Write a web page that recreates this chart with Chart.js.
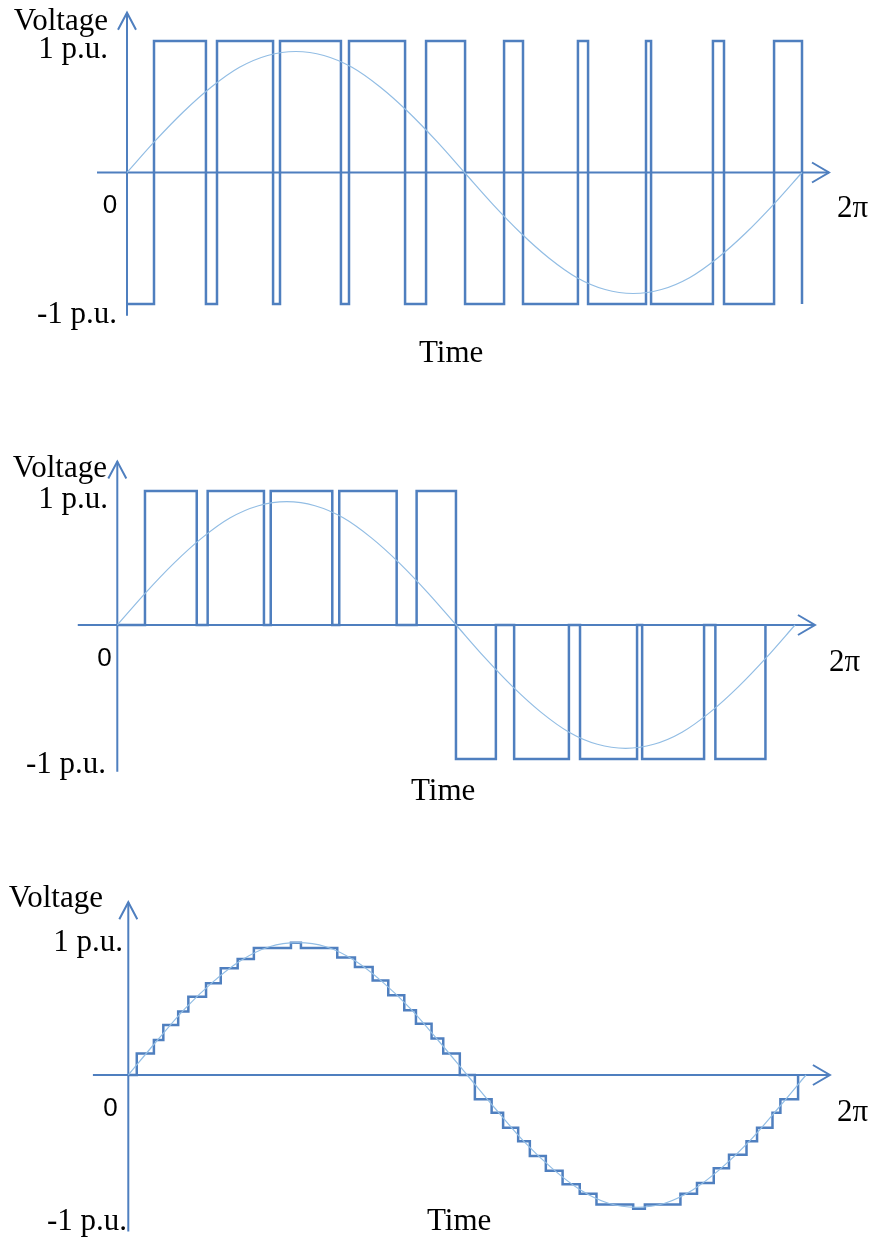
<!DOCTYPE html>
<html>
<head>
<meta charset="utf-8">
<script src="https://cdn.jsdelivr.net/npm/chart.js@4.4.1/dist/chart.umd.min.js"></script>
<style>
  body { margin: 0; background: #fff; }
  #wrap { position: relative; width: 874px; height: 1238px; overflow: hidden; }
  canvas { position: absolute; left: 0; }
</style>
</head>
<body>
<div id="wrap">
  <canvas id="pwmBipolar"></canvas>
  <canvas id="pwmUnipolar"></canvas>
  <canvas id="multilevel"></canvas>
</div>
<script>
// texts
const axisTitles = ['Voltage', 'Time']
const tickLabels = ['1 p.u.', '0', '-1 p.u.']
const periodLabel = '2π'

// reference sine (angle in degrees, value in p.u.)
const sineAngles = [0, 15, 30, 45, 60, 75, 90, 105, 120, 135, 150, 165, 180, 195, 210, 225, 240, 255, 270, 285, 300, 315, 330, 345, 360]
const sineTop = [0, 0.24, 0.46, 0.65, 0.80, 0.89, 0.92, 0.89, 0.80, 0.65, 0.46, 0.24, 0, -0.24, -0.46, -0.65, -0.80, -0.89, -0.92, -0.89, -0.80, -0.65, -0.46, -0.24, 0]
const sineBottom = [0, 0.25, 0.49, 0.69, 0.85, 0.95, 0.98, 0.95, 0.85, 0.69, 0.49, 0.25, 0, -0.25, -0.49, -0.69, -0.85, -0.95, -0.98, -0.95, -0.85, -0.69, -0.49, -0.25, 0]

// two level pwm: each level holds from its angle until the next one
const bipolarAngles = [0, 14.4, 42.1, 48.0, 77.9, 81.6, 114.1, 118.4, 148.3, 159.5, 180.3, 201.1, 211.2, 240.5, 245.9, 276.8, 279.5, 312.5, 318.4, 345.1, 360]
const bipolarLevels = [-1, 1, -1, 1, -1, 1, -1, 1, -1, 1, -1, 1, -1, 1, -1, 1, -1, 1, -1, 1, -1]

// three level pwm
const unipolarAngles = [0, 14.7, 42.2, 48.0, 77.9, 81.5, 114.2, 117.9, 148.4, 159.0, 179.9, 201.1, 210.8, 239.9, 245.8, 276.1, 278.8, 311.7, 317.7, 344.3]
const unipolarLevels = [0, 1, 0, 1, 0, 1, 0, 1, 0, 1, -1, 0, -1, 0, -1, 0, -1, 0, -1, 0]

// multilevel staircase
const stepAngles = [0, 4.5, 13.6, 18.6, 26.5, 31.9, 41.3, 49.1, 58.1, 66.7, 86.4, 91.7, 111.0, 120.4, 129.8, 138.1, 146.6, 152.8, 161.1, 167.3, 176.1,
  184.1, 193.0, 199.1, 207.1, 213.3, 221.8, 230.7, 239.8, 248.7, 268.2, 274.4, 293.3, 302.1, 311.0, 319.1, 328.4, 334.0, 342.2, 346.4, 355.8]
const stepLevels = [0, 0.16, 0.26, 0.37, 0.47, 0.58, 0.68, 0.79, 0.86, 0.94, 0.98, 0.94, 0.87, 0.80, 0.70, 0.59, 0.48, 0.38, 0.27, 0.16, 0,
  -0.18, -0.28, -0.39, -0.49, -0.60, -0.71, -0.81, -0.88, -0.96, -0.99, -0.96, -0.88, -0.80, -0.69, -0.59, -0.49, -0.39, -0.28, -0.18, 0]

const waveColor = '#4f7fbf'
const sineColor = '#92bde4'
const serif = '31px "Liberation Serif", "Times New Roman", serif'
const sans = '26px "Liberation Sans", Arial, sans-serif'

const X_MIN = -25, X_MAX = 385, Y_MIN = -1.2, Y_MAX = 1.3

const toPoints = (xs, ys) => xs.map((v, i) => ({ x: v, y: ys[i] }))

// page geometry of each panel (pixels), axis extents in data units
const panels = [
  {
    id: 'pwmBipolar', top: 0, height: 430, x0: 127, x360: 802, zero: 172.5, unit: 131.5,
    xStart: -16, xTip: 374.4, yTip: 1.215, yBottom: -1.09,
    sine: sineTop, angles: bipolarAngles, levels: bipolarLevels,
    labels: [
      { text: axisTitles[0], x: 108, y: 30, align: 'right' },
      { text: tickLabels[0], x: 108, y: 58, align: 'right' },
      { text: tickLabels[1], x: 110, y: 213, align: 'center', font: sans },
      { text: tickLabels[2], x: 117, y: 323, align: 'right' },
      { text: periodLabel, x: 837, y: 217, align: 'left' },
      { text: axisTitles[1], x: 419, y: 362, align: 'left' }
    ]
  },
  {
    id: 'pwmUnipolar', top: 430, height: 430, x0: 117.3, x360: 795, zero: 625, unit: 134,
    xStart: -21, xTip: 370.6, yTip: 1.22, yBottom: -1.095,
    sine: sineTop, angles: unipolarAngles, levels: unipolarLevels,
    labels: [
      { text: axisTitles[0], x: 107, y: 477, align: 'right' },
      { text: tickLabels[0], x: 108, y: 508, align: 'right' },
      { text: tickLabels[1], x: 104.5, y: 666, align: 'center', font: sans },
      { text: tickLabels[2], x: 106, y: 773, align: 'right' },
      { text: periodLabel, x: 829, y: 671, align: 'left' },
      { text: axisTitles[1], x: 411, y: 800, align: 'left' }
    ]
  },
  {
    id: 'multilevel', top: 850, height: 388, x0: 128.3, x360: 806, zero: 1075, unit: 135,
    xStart: -18.8, xTip: 372.7, yTip: 1.28, yBottom: -1.16,
    sine: sineBottom, angles: stepAngles, levels: stepLevels,
    labels: [
      { text: axisTitles[0], x: 103, y: 907, align: 'right' },
      { text: tickLabels[0], x: 123, y: 951, align: 'right' },
      { text: tickLabels[1], x: 110.5, y: 1116, align: 'center', font: sans },
      { text: tickLabels[2], x: 127, y: 1230, align: 'right' },
      { text: periodLabel, x: 837, y: 1121, align: 'left' },
      { text: axisTitles[1], x: 427, y: 1230, align: 'left' }
    ]
  }
]

// axes with arrow heads + the text labels
const arrowAxes = {
  id: 'arrowAxes',
  beforeDatasetsDraw(chart, args, opts) {
    const { ctx, scales: { x, y } } = chart
    const p = panels[opts.index]
    const y0 = y.getPixelForValue(0)
    const x0 = x.getPixelForValue(0)
    const xs = x.getPixelForValue(p.xStart), xt = x.getPixelForValue(p.xTip)
    const yb = y.getPixelForValue(p.yBottom), yt = y.getPixelForValue(p.yTip)
    ctx.save()
    ctx.strokeStyle = waveColor
    ctx.lineWidth = 2
    ctx.beginPath()
    ctx.moveTo(xs, y0); ctx.lineTo(xt, y0)
    ctx.moveTo(x0, yb); ctx.lineTo(x0, yt)
    ctx.stroke()
    ctx.beginPath()
    ctx.moveTo(xt - 17, y0 - 10); ctx.lineTo(xt, y0); ctx.lineTo(xt - 17, y0 + 10)
    ctx.moveTo(x0 - 9, yt + 17); ctx.lineTo(x0, yt); ctx.lineTo(x0 + 9, yt + 17)
    ctx.stroke()
    ctx.fillStyle = '#000'
    ctx.textBaseline = 'alphabetic'
    p.labels.forEach((l) => {
      ctx.font = l.font || serif
      ctx.textAlign = l.align
      ctx.fillText(l.text, l.x, l.y - p.top)
    })
    ctx.restore()
  }
}

panels.forEach((p, i) => {
  const canvas = document.getElementById(p.id)
  canvas.width = 874
  canvas.height = p.height
  canvas.style.top = p.top + 'px'
  const ppd = (p.x360 - p.x0) / 360
  const zero = p.zero - p.top
  new Chart(canvas, {
    type: 'line',
    data: {
      datasets: [
        {
          data: toPoints(sineAngles, p.sine),
          borderColor: sineColor,
          borderWidth: 1.2,
          cubicInterpolationMode: 'monotone',
          pointRadius: 0
        },
        {
          data: toPoints(p.angles, p.levels),
          borderColor: waveColor,
          borderWidth: 2.5,
          stepped: true,
          pointRadius: 0
        }
      ]
    },
    options: {
      responsive: false,
      animation: false,
      devicePixelRatio: 1,
      layout: {
        padding: {
          left: p.x0 + X_MIN * ppd,
          right: 874 - (p.x0 + X_MAX * ppd),
          top: zero - Y_MAX * p.unit,
          bottom: p.height - (zero - Y_MIN * p.unit)
        }
      },
      scales: {
        x: { type: 'linear', min: X_MIN, max: X_MAX, display: false },
        y: { type: 'linear', min: Y_MIN, max: Y_MAX, display: false }
      },
      plugins: {
        legend: { display: false },
        tooltip: { enabled: false },
        arrowAxes: { index: i }
      }
    },
    plugins: [arrowAxes]
  })
})
</script>
</body>
</html>
